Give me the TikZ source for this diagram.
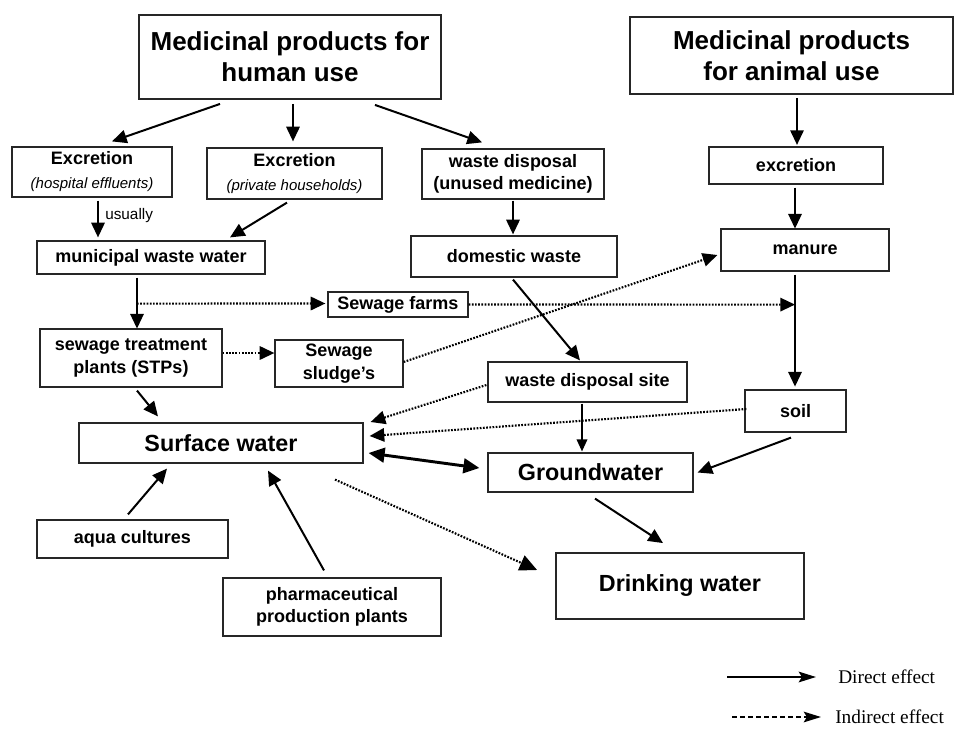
\documentclass[tikz,border=0pt]{standalone}
\usepackage{fontspec}
\setmainfont{Liberation Sans}
\newfontfamily\legendfont{Liberation Serif}
\usetikzlibrary{arrows.meta,calc}
\begin{document}
\begin{tikzpicture}[x=0.75pt,y=-0.75pt,
  wh/.style 2 args={minimum width=#1*0.75pt, minimum height=#2*0.75pt},
  box/.style={draw=black!85, line width=0.9pt, inner sep=0pt, align=center, font=\bfseries\fontsize{13.5}{17}\selectfont},
  bigbox/.style={box, line width=1.4pt, font=\bfseries\fontsize{19.5}{23}\selectfont},
  midbox/.style={box, font=\bfseries\fontsize{17.5}{20}\selectfont},
  arr/.style={line width=1.5pt, -{Triangle[length=11pt,width=10pt]}},
  thinarr/.style={line width=1pt, -{Triangle[length=9pt,width=8pt]}},
  dotarr/.style={line width=1.6pt, dash pattern=on 1.3pt off 1.1pt, -{Triangle[length=11pt,width=10pt]}},
  legtext/.style={anchor=west, inner sep=0pt, font=\legendfont\fontsize{14.5}{16}\selectfont}
]
\useasboundingbox (0,0) rectangle (956,728);

% nodes
\node[bigbox, wh={302}{84}] (human) at (290,57) {Medicinal products for\\human use};
\node[bigbox, wh={323}{77}] (animal) at (791.5,55.5) {Medicinal products\\for animal use};
\node[box, wh={160}{50}] (hosp) at (92,172) {Excretion\\[1pt]{\mdseries\itshape\fontsize{11.25}{13}\selectfont (hospital effluents)}};
\node[box, wh={175}{51}] (priv) at (294.5,173.5) {Excretion\\[1pt]{\mdseries\itshape\fontsize{11.25}{13}\selectfont (private households)}};
\node[box, wh={182}{50}] (wdisp) at (513,174) {waste disposal\\(unused medicine)};
\node[box, wh={174}{37}] (excA) at (796,165.5) {excretion};
\node[box, wh={228}{33}] (munic) at (151,257.5) {municipal waste water};
\node[box, wh={206}{41}] (domw) at (514,256.5) {domestic waste};
\node[box, wh={168}{42}] (manure) at (805,250) {manure};
\node[box, wh={140}{25}] (sfarms) at (398,304.5) {Sewage farms};
\node[box, wh={182}{58}] (stp) at (131,358) {sewage treatment\\plants (STPs)};
\node[box, wh={128}{47}] (sludge) at (339,363.5) {Sewage\\sludge’s};
\node[box, wh={199}{40}] (wds) at (587.5,382) {waste disposal site};
\node[box, wh={101}{42}] (soil) at (795.5,411) {soil};
\node[midbox, wh={284}{40}] (surf) at (221,443) {Surface water};
\node[midbox, wh={205}{39}] (ground) at (590.5,472.5) {Groundwater};
\node[box, wh={191}{38}] (aqua) at (132.5,539) {aqua cultures};
\node[box, wh={218}{58}] (pharma) at (332,607) {pharmaceutical\\production plants};
\node[midbox, line width=1.4pt, wh={248}{66}] (drink) at (680,586) {Drinking water};

% direct connectors
\draw[arr] ($(human.south)+(-70,4)$) -- ($(hosp.north)+(20,-5)$);
\draw[arr] ($(human.south)+(3,4)$) -- ($(priv.north)+(-1.5,-6)$);
\draw[arr] ($(human.south)+(85,5)$) -- ($(wdisp.north)+(-31,-6)$);
\draw[arr] ($(hosp.south)+(6,3)$) -- ($(munic.north)+(-53,-3)$);
\node[anchor=west, inner sep=0pt, font=\fontsize{11.5}{13}\selectfont] (usually) at (105,216) {usually};
\draw[arr] ($(priv.south)+(-7.5,3)$) -- ($(munic.north)+(79,-3)$);
\draw[arr] ($(wdisp.south)+(0,1)$) -- ($(domw.north)+(-1,-1)$);
\draw[arr] ($(animal.south)+(5.5,3)$) -- ($(animal.south)+(5.5,50)$);
\draw[arr] ($(excA.south)+(-1,3)$) -- ($(excA.south)+(-1,44)$);
\draw[arr] ($(munic.south)+(-14,3)$) -- ($(munic.south)+(-14,54)$);
\coordinate (mbranch) at ($(munic.south)+(-14,29)$);
\draw[arr] ($(manure.south)+(-10,3)$) -- ($(manure.south)+(-10,115)$);
\coordinate (mabranch) at ($(manure.south)+(-10,33)$);
\draw[arr] ($(domw.south)+(-1,2)$) -- ($(wds.north)+(-7.5,-1)$);
\draw[arr] ($(stp.south)+(6,3)$) -- ($(surf.north)+(-63,-6)$);
\draw[line width=2.2pt, {Triangle[length=12pt,width=11pt]}-{Triangle[length=12pt,width=11pt]}] ($(surf.east)+(5,10)$) -- ($(ground.west)+(-8,-4.5)$);
\draw[thinarr] ($(wds.south)+(-5.5,1)$) -- ($(ground.north)+(-8.5,-1)$);
\draw[arr] ($(soil.south)+(-4.5,5)$) -- ($(ground.east)+(4,0)$);
\draw[arr] ($(ground.south)+(4.5,6)$) -- ($(drink.north)+(-17,-9)$);
\draw[arr] ($(aqua.north)+(-4.5,-5)$) -- ($(surf.south)+(-54,5)$);
\draw[arr] ($(pharma.north)+(-8,-7)$) -- ($(surf.south)+(47,7)$);

% indirect connectors
\draw[dotarr] (mbranch) -- ($(sfarms.west)+(-2,-1)$);
\draw[dotarr] (sfarms.east) -- (mabranch);
\draw[dotarr] ($(stp.east)+(0,-5)$) -- ($(sludge.west)+(0,-10.5)$);
\draw[dotarr] ($(sludge.east)+(0,-1.5)$) -- ($(manure.west)+(-3,5)$);
\draw[dotarr] ($(wds.west)+(-1,3)$) -- ($(surf.east)+(7,-21)$);
\draw[dotarr] ($(soil.west)+(2,-2)$) -- ($(surf.east)+(6,-7)$);
\draw[dotarr, -{Triangle[length=13pt,width=12pt]}] ($(surf.south)+(114,16)$) -- ($(drink.west)+(-18,-16)$);

% legend
\node[legtext] (ldir) at (838,677) {Direct effect};
\node[legtext] (lind) at (835,717) {Indirect effect};
\coordinate (ldirs) at (727,677);
\coordinate (linds) at (732,717);
\draw[line width=1.5pt, -{Stealth[length=13pt,width=8pt,inset=2.5pt]}] (ldirs) -- ($(ldir.west)+(-22,0)$);
\draw[line width=1.3pt, dash pattern=on 3.5pt off 2.5pt, -{Stealth[length=13pt,width=8pt,inset=2.5pt]}] (linds) -- ($(lind.west)+(-14,0)$);
\end{tikzpicture}
\end{document}
